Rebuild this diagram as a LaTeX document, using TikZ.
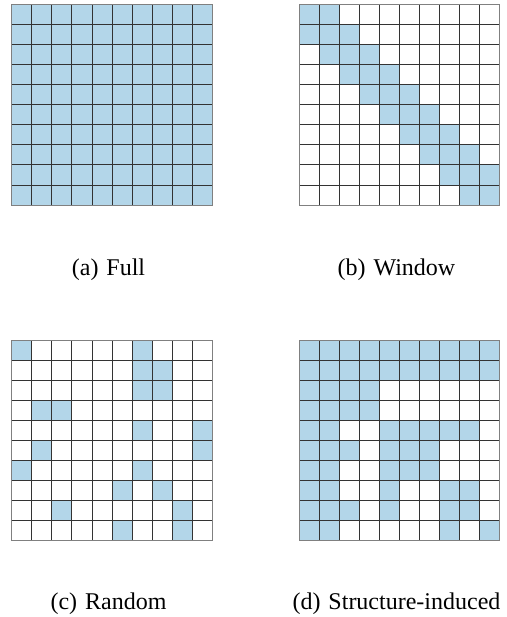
\documentclass[tikz,border=0pt]{standalone}
\usepackage{fontspec}
\setmainfont{Liberation Serif}
\definecolor{cellblue}{RGB}{179,214,233}
\newcommand{\cellgrid}{%
  \foreach \k in {1,...,9}{
    \draw[innerline] (\k,0) -- (\k,10);
    \draw[innerline] (0,\k) -- (10,\k);
  }
  \draw[outerline] (0,0) rectangle (10,10);
}
\begin{document}
\begin{tikzpicture}[x=1pt,y=-1pt,
  cellfill/.style={fill=cellblue},
  innerline/.style={draw=black!80,line width=0.8pt},
  outerline/.style={draw=black!50,line width=0.9pt},
  caption/.style={anchor=base,inner sep=0pt,font=\fontsize{24}{28}\selectfont}]
\useasboundingbox (0,0) rectangle (506,617);
% (a) Full
\begin{scope}[shift={(11.7,4.5)},x=20.05pt,y=-20.05pt]
  \fill[cellfill] (0,0) rectangle (10,10);
  \cellgrid
\end{scope}
% (b) Window
\begin{scope}[shift={(299.3,4.5)},x=20.05pt,y=-20.05pt]
  \foreach \r in {0,...,9}{
    \foreach \d in {-1,0,1}{
      \pgfmathtruncatemacro{\c}{\r+\d}
      \ifnum\c>-1 \ifnum\c<10
        \fill[cellfill] (\c,\r) rectangle ++(1,1);
      \fi\fi
    }
  }
  \cellgrid
\end{scope}
% (c) Random
\begin{scope}[shift={(11.7,340)},x=20.05pt,y=-20.05pt]
  \foreach \r/\cols in {0/{0,6},1/{6,7},2/{6,7},3/{1,2},4/{6,9},5/{1,9},6/{0,6},7/{5,7},8/{2,8},9/{5,8}}{
    \foreach \c in \cols { \fill[cellfill] (\c,\r) rectangle ++(1,1); }
  }
  \cellgrid
\end{scope}
% (d) Structure-induced
\begin{scope}[shift={(299.3,340)},x=20.05pt,y=-20.05pt]
  \foreach \r/\cols in {0/{0,1,2,3,4,5,6,7,8,9},1/{0,1,2,3,4,5,6,7,8,9},2/{0,1,2,3},3/{0,1,2,3},4/{0,1,4,5,6,7,8},5/{0,1,2,4,5,6},6/{0,1,4,5,6},7/{0,1,4,7,8},8/{0,1,2,4,7,8},9/{0,1,7,9}}{
    \foreach \c in \cols { \fill[cellfill] (\c,\r) rectangle ++(1,1); }
  }
  \cellgrid
\end{scope}
% captions
\node[caption] (capa) at (108.5,275) {(a)\hspace{0.33em}Full};
\node[caption] (capb) at (396.5,275) {(b)\hspace{0.33em}Window};
\node[caption] (capc) at (108.5,609) {(c)\hspace{0.33em}Random};
\node[caption] (capd) at (396.5,609) {(d)\hspace{0.33em}Structure-induced};
\end{tikzpicture}
\end{document}
